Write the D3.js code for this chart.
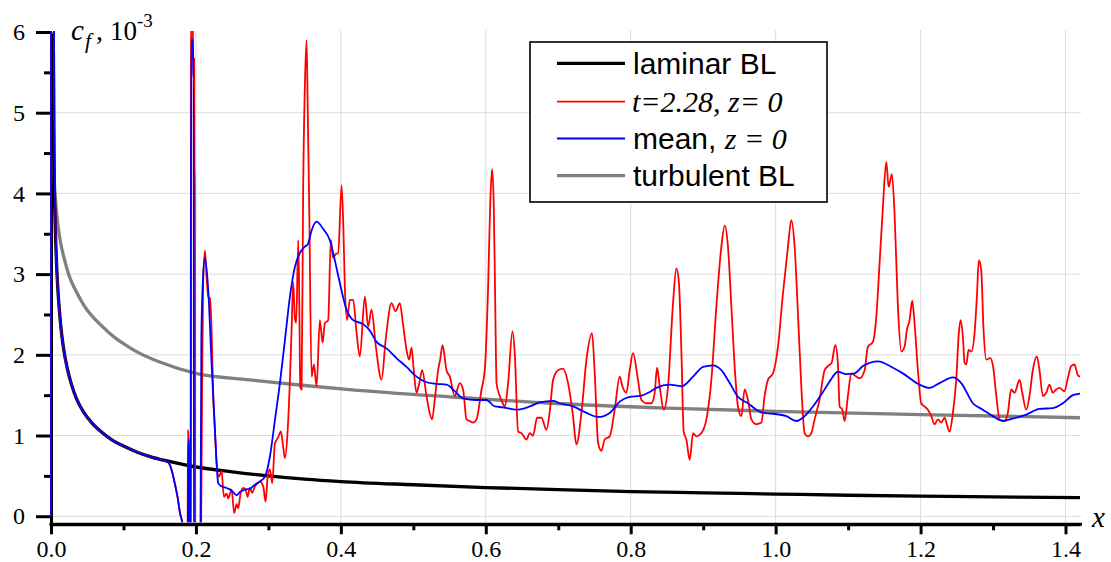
<!DOCTYPE html>
<html>
<head>
<meta charset="utf-8">
<script src="https://cdn.jsdelivr.net/npm/d3@7"></script>
<style>
  html, body { margin: 0; padding: 0; background: #fff; }
  svg { display: block; }
</style>
</head>
<body>
<svg id="chart" width="1111" height="562"></svg>
<script>
// Skin-friction coefficient c_f (x 10^-3) along the plate, pairs of [x, cf]

// Blasius laminar boundary layer
const laminarBL = [
  [0.0021, 5.98], [0.0025, 5.48], [0.003, 5.0], [0.004, 4.33], [0.005, 3.87],
  [0.0065, 3.40], [0.008, 3.06], [0.01, 2.74], [0.013, 2.40], [0.017, 2.10],
  [0.022, 1.85], [0.028, 1.64], [0.035, 1.46], [0.045, 1.29], [0.056, 1.16],
  [0.07, 1.04], [0.085, 0.94], [0.1, 0.87], [0.12, 0.79], [0.14, 0.73],
  [0.16, 0.685], [0.2, 0.61], [0.25, 0.55], [0.3, 0.50], [0.35, 0.46],
  [0.4, 0.43], [0.5, 0.39], [0.6, 0.355], [0.7, 0.33], [0.8, 0.305],
  [0.9, 0.29], [1.0, 0.275], [1.1, 0.26], [1.2, 0.25], [1.3, 0.24], [1.42, 0.23]
];

// Turbulent boundary layer correlation
const turbulentBL = [
  [0.0012, 6.0], [0.0016, 5.2], [0.0022, 4.7], [0.0032, 4.42], [0.0055, 4.0],
  [0.0075, 3.78], [0.0097, 3.6], [0.013, 3.4], [0.018, 3.2], [0.025, 2.98],
  [0.034, 2.8], [0.045, 2.62], [0.0686, 2.37], [0.09, 2.2], [0.1, 2.14],
  [0.12, 2.03], [0.15, 1.91], [0.2, 1.77], [0.274, 1.69], [0.35, 1.62],
  [0.412, 1.57], [0.55, 1.48], [0.69, 1.40], [0.85, 1.34], [1.0, 1.30],
  [1.2, 1.26], [1.42, 1.22]
];

// Instantaneous distribution, t = 2.28, z = 0
const instant = [
  [0, 0], [0.0003, 12], [0.0042, 6.0], [0.005, 4.6], [0.0065, 3.5], [0.01, 2.74],
  [0.017, 2.10], [0.028, 1.64], [0.045, 1.29], [0.07, 1.04], [0.1, 0.87],
  [0.14, 0.73], [0.157, 0.685], [0.1625, 0.66], [0.1665, 0.57], [0.171, 0.40],
  [0.175, 0.22], [0.178, 0.04], [0.1817, -0.12], [0.184, -1.5],
  [0.1882, -1.5], [0.1889, 1.07], [0.1895, 1.0], [0.1903, 0.88], [0.191, -1.5],
  [0.1925, -1.5], [0.1933, 6.1], [0.1958, 6.1], [0.1962, 5.67], [0.1975, 5.67],
  [0.198, 4.39], [0.1985, 4.1], [0.1992, -1.5], [0.2058, -1.5], [0.2085, 1.6],
  [0.21, 2.9], [0.2124, 3.29], [0.2148, 2.95], [0.217, 2.72], [0.2193, 2.70],
  [0.2216, 2.31], [0.2239, 1.48], [0.2262, 1.07], [0.2285, 0.66], [0.2317, 0.49],
  [0.2354, 0.56], [0.2386, 0.24], [0.2423, 0.28], [0.2446, 0.22], [0.2492, 0.33],
  [0.2528, 0.04], [0.2561, 0.15], [0.2584, 0.10], [0.2616, 0.28], [0.2653, 0.35],
  [0.2685, 0.33], [0.2713, 0.24], [0.2745, 0.35], [0.2777, 0.29], [0.2814, 0.37],
  [0.2851, 0.41], [0.2883, 0.43], [0.2929, 0.37], [0.2961, 0.18], [0.2989, 0.48],
  [0.3021, 0.58], [0.3053, 0.41], [0.309, 0.90], [0.3136, 0.98], [0.3172, 1.05],
  [0.3204, 0.86], [0.3228, 0.72], [0.3265, 1.05], [0.3297, 1.69], [0.332, 2.31],
  [0.3342, 2.9], [0.3366, 2.45], [0.3384, 2.4], [0.3412, 3.42], [0.3426, 2.7],
  [0.344, 1.6], [0.3458, 1.57], [0.348, 4.08], [0.3503, 5.32], [0.3527, 5.9],
  [0.3545, 4.9], [0.3563, 3.87], [0.3596, 1.73], [0.3628, 1.88], [0.3665, 1.61],
  [0.371, 2.43], [0.3748, 2.15], [0.3779, 2.39], [0.3825, 2.43], [0.3862, 3.42],
  [0.3894, 3.2], [0.3931, 3.25], [0.3963, 3.26], [0.401, 4.10], [0.4034, 3.6],
  [0.4055, 2.84], [0.4087, 2.43], [0.4124, 2.68], [0.417, 2.68], [0.4214, 2.3],
  [0.4262, 1.98], [0.4331, 2.72], [0.4377, 2.35], [0.4423, 2.56], [0.4483, 2.1],
  [0.4561, 1.69], [0.462, 2.2], [0.4699, 2.64], [0.4754, 2.54], [0.4814, 2.64],
  [0.4855, 2.4], [0.4906, 2.06], [0.4942, 1.94], [0.4975, 2.09], [0.5007, 1.8],
  [0.5044, 1.53], [0.5083, 1.65], [0.5121, 1.81], [0.5182, 1.49], [0.522, 1.3],
  [0.5259, 1.2], [0.5297, 1.45], [0.5342, 1.81], [0.5372, 1.95], [0.5403, 2.12],
  [0.5458, 1.81], [0.5503, 1.73], [0.5572, 1.49], [0.5641, 1.65], [0.5687, 1.57],
  [0.5734, 1.2], [0.5779, 1.18], [0.5825, 1.16], [0.5872, 1.2], [0.5941, 1.57],
  [0.5986, 1.81], [0.6032, 2.84], [0.6062, 3.9], [0.6087, 4.30], [0.611, 3.87],
  [0.6131, 2.6], [0.6148, 1.65], [0.6193, 1.49], [0.6234, 1.4], [0.6262, 1.36],
  [0.6308, 1.65], [0.6368, 2.29], [0.64, 2.02], [0.6446, 1.05], [0.6492, 1.03],
  [0.6561, 0.95], [0.6607, 1.03], [0.6653, 1.0], [0.6708, 1.22], [0.6768, 1.22],
  [0.6837, 1.07], [0.6883, 1.3], [0.6929, 1.69], [0.6997, 1.81], [0.7066, 1.83],
  [0.7135, 1.65], [0.7204, 1.24], [0.725, 0.89], [0.732, 1.28], [0.7389, 1.94],
  [0.7466, 2.27], [0.7503, 1.78], [0.755, 0.91], [0.7596, 0.81], [0.7641, 0.95],
  [0.771, 0.99], [0.7779, 1.32], [0.7848, 1.73], [0.7885, 1.61], [0.794, 1.53],
  [0.7986, 1.81], [0.8032, 2.02], [0.81, 1.69], [0.8147, 1.44], [0.8216, 1.40],
  [0.8285, 1.40], [0.8331, 1.53], [0.8363, 1.84], [0.84, 1.61], [0.8455, 1.32],
  [0.8515, 1.61], [0.8584, 2.64], [0.863, 3.07], [0.8666, 2.88], [0.87, 2.02],
  [0.8731, 1.05], [0.8768, 0.95], [0.8814, 0.70], [0.886, 1.03], [0.8906, 0.99],
  [0.8975, 1.03], [0.9044, 1.2], [0.9113, 1.69], [0.9182, 2.60], [0.9251, 3.34],
  [0.9297, 3.60], [0.9342, 3.34], [0.9389, 2.60], [0.9434, 1.86], [0.948, 1.36],
  [0.9527, 1.24], [0.9572, 1.57], [0.9618, 1.44], [0.9665, 1.2], [0.9734, 1.14],
  [0.9803, 1.16], [0.9848, 1.49], [0.9894, 1.69], [0.9963, 1.77], [1.0032, 2.10],
  [1.0101, 2.76], [1.017, 3.34], [1.0216, 3.67], [1.0262, 3.34], [1.0308, 2.51],
  [1.0354, 1.61], [1.04, 1.03], [1.0446, 0.99], [1.0492, 1.03], [1.0538, 1.2],
  [1.0607, 1.45], [1.0676, 1.81], [1.0722, 1.86], [1.0772, 1.9], [1.0823, 2.12],
  [1.0859, 1.9], [1.0883, 1.36], [1.092, 1.32], [1.0952, 1.18], [1.0997, 1.49],
  [1.1044, 1.77], [1.1113, 1.73], [1.1159, 1.71], [1.1228, 1.81], [1.1273, 2.10],
  [1.1342, 2.16], [1.1389, 2.47], [1.1434, 3.13], [1.148, 3.83], [1.1527, 4.39],
  [1.1559, 4.08], [1.1604, 4.24], [1.1641, 3.75], [1.1687, 2.60], [1.1734, 2.04],
  [1.1779, 2.10], [1.1811, 2.31], [1.1848, 2.43], [1.1885, 2.67], [1.1917, 2.39],
  [1.1963, 1.81], [1.2009, 1.40], [1.2055, 1.36], [1.2101, 1.32], [1.2148, 1.24],
  [1.2193, 1.14], [1.2239, 1.2], [1.2286, 1.16], [1.2331, 1.22], [1.2368, 1.12],
  [1.24, 1.05], [1.2446, 1.28], [1.2492, 1.69], [1.2528, 2.27], [1.2552, 2.43],
  [1.2584, 2.22], [1.2607, 1.9], [1.2631, 1.88], [1.2662, 2.06], [1.27, 2.04],
  [1.2745, 2.27], [1.2777, 2.72], [1.2804, 3.17], [1.2837, 3.05], [1.2869, 2.31],
  [1.2906, 1.94], [1.2961, 1.96], [1.3, 1.86], [1.3045, 1.49], [1.309, 1.2],
  [1.3159, 1.18], [1.3204, 1.28], [1.325, 1.57], [1.3297, 1.53], [1.3366, 1.69],
  [1.3403, 1.53], [1.3458, 1.32], [1.3503, 1.49], [1.3549, 1.81], [1.3604, 1.98],
  [1.3641, 1.81], [1.3687, 1.49], [1.3734, 1.53], [1.3779, 1.63], [1.3825, 1.53],
  [1.3872, 1.57], [1.3917, 1.59], [1.3986, 1.55], [1.4032, 1.71], [1.4078, 1.86],
  [1.4124, 1.88], [1.4169, 1.75], [1.42, 1.73]
];

// Time-averaged distribution, z = 0
const mean = [
  [0, 0], [0.0003, 12], [0.0042, 6.0], [0.005, 4.6], [0.0065, 3.5], [0.008, 3.08],
  [0.01, 2.74], [0.013, 2.40], [0.017, 2.10], [0.022, 1.85], [0.028, 1.64],
  [0.035, 1.46], [0.045, 1.29], [0.056, 1.16], [0.07, 1.04], [0.085, 0.94],
  [0.1, 0.87], [0.12, 0.79], [0.14, 0.73], [0.157, 0.685], [0.1625, 0.66],
  [0.1665, 0.57], [0.171, 0.40], [0.175, 0.22], [0.178, 0.04], [0.1817, -0.12],
  [0.184, -1.5], [0.1885, -1.5], [0.1893, 0.95], [0.1903, 0.95], [0.191, -1.5],
  [0.1927, -1.5], [0.1934, 5.9], [0.1958, 5.9], [0.1962, 5.42], [0.1968, 5.42],
  [0.1975, -1.5], [0.2055, -1.5], [0.2075, 2.2], [0.2095, 2.9], [0.2124, 3.2],
  [0.217, 2.8], [0.2216, 1.9], [0.2262, 1.07], [0.2308, 0.41], [0.2354, 0.37],
  [0.2423, 0.35], [0.2492, 0.32], [0.2561, 0.26], [0.2607, 0.30], [0.2676, 0.33],
  [0.2745, 0.34], [0.2814, 0.39], [0.2883, 0.43], [0.2952, 0.49], [0.3021, 0.74],
  [0.309, 1.19], [0.3159, 1.65], [0.3228, 2.18], [0.3297, 2.72], [0.3366, 3.09],
  [0.3434, 3.26], [0.3503, 3.34], [0.3545, 3.37], [0.3596, 3.54], [0.3665, 3.65],
  [0.3756, 3.56], [0.3848, 3.42], [0.3917, 3.17], [0.3986, 2.89], [0.4078, 2.56],
  [0.417, 2.43], [0.4308, 2.38], [0.44, 2.30], [0.4492, 2.16], [0.463, 2.08],
  [0.4768, 1.96], [0.4906, 1.85], [0.5044, 1.73], [0.5182, 1.66], [0.532, 1.64],
  [0.5458, 1.63], [0.5572, 1.55], [0.5687, 1.46], [0.5871, 1.44], [0.601, 1.44],
  [0.6124, 1.36], [0.6239, 1.35], [0.6423, 1.32], [0.6607, 1.36], [0.6745, 1.41],
  [0.6929, 1.43], [0.702, 1.40], [0.7204, 1.36], [0.7389, 1.28], [0.755, 1.23],
  [0.771, 1.28], [0.7848, 1.42], [0.7986, 1.48], [0.8124, 1.49], [0.8262, 1.54],
  [0.8354, 1.59], [0.8538, 1.63], [0.87, 1.61], [0.886, 1.73], [0.8998, 1.85],
  [0.9135, 1.87], [0.9251, 1.81], [0.9366, 1.65], [0.948, 1.48], [0.9618, 1.40],
  [0.9734, 1.32], [0.9825, 1.28], [0.9963, 1.27], [1.0148, 1.24], [1.0286, 1.18],
  [1.04, 1.24], [1.0515, 1.36], [1.0653, 1.54], [1.0745, 1.67], [1.086, 1.79],
  [1.0975, 1.76], [1.109, 1.77], [1.1204, 1.86], [1.1411, 1.92], [1.1618, 1.84],
  [1.1756, 1.77], [1.1986, 1.63], [1.2124, 1.59], [1.2262, 1.65], [1.2446, 1.72],
  [1.2561, 1.65], [1.2722, 1.40], [1.2859, 1.32], [1.2997, 1.24], [1.3135, 1.18],
  [1.3273, 1.21], [1.3458, 1.26], [1.3641, 1.33], [1.3825, 1.34], [1.3963, 1.40],
  [1.4101, 1.50], [1.42, 1.52]
];

// Axis ticks
const xMajor = [0, 0.2, 0.4, 0.6, 0.8, 1.0, 1.2, 1.4];
const xMinor = [0.1, 0.3, 0.5, 0.7, 0.9, 1.1, 1.3];
const yMajor = [0, 1, 2, 3, 4, 5, 6];
const yMinor = [0.5, 1.5, 2.5, 3.5, 4.5, 5.5];
const xGrid = [0.2, 0.4, 0.6, 0.8, 1.0, 1.2, 1.4];
const yGrid = [0, 1, 2, 3, 4, 5];

// Legend entries
const legendItems = [
  { key: "laminar", color: "#000000", width: 3.3 },
  { key: "instant", color: "#ff0000", width: 1.8 },
  { key: "mean",    color: "#0000ff", width: 1.8 },
  { key: "turb",    color: "#808080", width: 3.3 }
];

const SERIF = "Liberation Serif";
const SANS = "Liberation Sans";

const svg = d3.select("#chart");

const x = d3.scaleLinear().domain([0, 1.42]).range([51, 1080]);
const y = d3.scaleLinear().domain([-0.1, 6]).range([524.3, 32]);

// grid
const grid = svg.append("g").attr("stroke", "#dcdcdc").attr("stroke-width", 1);
grid.selectAll("line.h").data(yGrid).enter().append("line")
  .attr("x1", x(0)).attr("x2", x(1.42) + 1)
  .attr("y1", d => y(d)).attr("y2", d => y(d));
grid.selectAll("line.v").data(xGrid).enter().append("line")
  .attr("x1", d => x(d)).attr("x2", d => x(d))
  .attr("y1", y(6) - 2).attr("y2", y(-0.1));

// axes
function styleAxis(g) {
  g.attr("font-family", SERIF).attr("font-size", 24);
  g.select(".domain").attr("stroke", "#000").attr("stroke-width", 3);
  g.selectAll(".tick line").attr("stroke", "#000").attr("stroke-width", 3);
  g.selectAll(".tick text").attr("fill", "#000");
}

const yAxisG = svg.append("g").attr("transform", "translate(51,0)");
yAxisG.call(d3.axisLeft(y).tickValues(yMajor).tickSize(15).tickSizeOuter(0)
  .tickPadding(11).tickFormat(d3.format("d"))).call(styleAxis);
svg.append("g").attr("transform", "translate(51,0)")
  .call(d3.axisLeft(y).tickValues(yMinor).tickSize(7).tickSizeOuter(0).tickFormat(""))
  .call(styleAxis);

const xAxisG = svg.append("g").attr("transform", "translate(0,524.3)");
xAxisG.call(d3.axisBottom(x).tickValues(xMajor).tickSize(10).tickSizeOuter(0)
  .tickPadding(6).tickFormat(d3.format(".1f"))).call(styleAxis);
svg.append("g").attr("transform", "translate(0,524.3)")
  .call(d3.axisBottom(x).tickValues(xMinor).tickSize(6).tickSizeOuter(0).tickFormat(""))
  .call(styleAxis);
xAxisG.select(".domain").attr("d", `M${x(0) - 1.5},0H${x(1.42) + 2}`);

// curves
svg.append("defs").append("clipPath").attr("id", "plotClip")
  .append("rect").attr("x", 50).attr("y", y(6) - 1)
  .attr("width", x(1.42) - 50 + 2).attr("height", y(-0.1) - y(6) - 1);

const plot = svg.append("g").attr("clip-path", "url(#plotClip)");
const smooth = d3.line().x(d => x(d[0])).y(d => y(d[1])).curve(d3.curveMonotoneX);

plot.append("path").datum(turbulentBL).attr("d", smooth)
  .attr("fill", "none").attr("stroke", "#808080").attr("stroke-width", 3.3);
plot.append("path").datum(laminarBL).attr("d", smooth)
  .attr("fill", "none").attr("stroke", "#000").attr("stroke-width", 3.3);
plot.append("path").datum(instant).attr("d", smooth)
  .attr("fill", "none").attr("stroke", "#ff0000").attr("stroke-width", 1.8)
  .attr("stroke-linejoin", "round");
plot.append("path").datum(mean).attr("d", smooth)
  .attr("fill", "none").attr("stroke", "#0000ff").attr("stroke-width", 1.8)
  .attr("stroke-linejoin", "round");

// axis titles
const yt = svg.append("g").attr("fill", "#000").attr("font-family", SERIF);
yt.append("text").attr("x", 71).attr("y", 40).attr("font-size", 29)
  .attr("font-style", "italic").text("c");
yt.append("text").attr("x", 85).attr("y", 48).attr("font-size", 22)
  .attr("font-style", "italic").text("f");
yt.append("text").attr("x", 96).attr("y", 40).attr("font-size", 28).text(",");
yt.append("text").attr("x", 110).attr("y", 40).attr("font-size", 27).text("10");
yt.append("text").attr("x", 137).attr("y", 27).attr("font-size", 19).text("-3");

svg.append("text").attr("x", 1092).attr("y", 526.5).attr("fill", "#000")
  .attr("font-family", SERIF).attr("font-size", 29).attr("font-style", "italic")
  .text("x");

// legend
const lg = svg.append("g");
lg.append("rect").attr("x", 530).attr("y", 42).attr("width", 297).attr("height", 160)
  .attr("fill", "#fff").attr("stroke", "#000").attr("stroke-width", 1.6);
const rowY = [63.3, 101.7, 138.5, 175.7];
legendItems.forEach((it, i) => {
  lg.append("line").attr("x1", 557).attr("x2", 625)
    .attr("y1", rowY[i]).attr("y2", rowY[i])
    .attr("stroke", it.color).attr("stroke-width", it.width);
});
const ty = rowY.map(v => v + 10.7);
lg.append("text").attr("x", 633).attr("y", ty[0]).attr("font-family", SANS)
  .attr("font-size", 30).text("laminar BL");
lg.append("text").attr("x", 632).attr("y", ty[1]).attr("font-family", SERIF)
  .attr("font-size", 30).attr("font-style", "italic").text("t=2.28, z= 0");
const mt = lg.append("text").attr("x", 633).attr("y", ty[2]).attr("font-size", 30);
mt.append("tspan").attr("font-family", SANS).text("mean, ");
mt.append("tspan").attr("font-family", SERIF).attr("font-style", "italic").text("z = 0");
lg.append("text").attr("x", 633).attr("y", ty[3]).attr("font-family", SANS)
  .attr("font-size", 30).text("turbulent BL");
</script>
</body>
</html>
